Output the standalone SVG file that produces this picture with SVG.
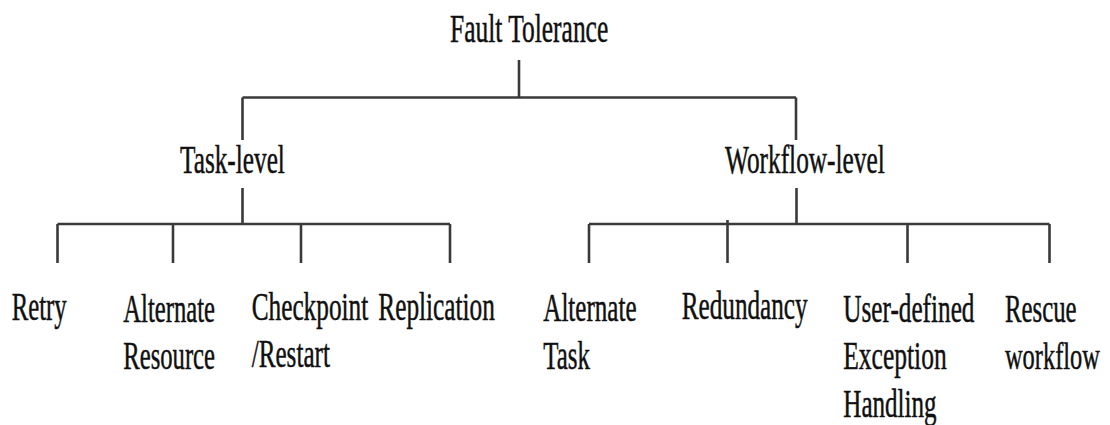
<svg xmlns="http://www.w3.org/2000/svg" width="1110" height="425" viewBox="0 0 1110 425">
<style>
  text { font-family: "Liberation Serif", "Times New Roman", serif; font-size: 39px; fill: #101010; stroke: #101010; stroke-width: 0.5; }
  .ln { stroke: #3a3a3a; stroke-width: 2.6; fill: none; stroke-linecap: butt; }
</style>
<rect width="1110" height="425" fill="#ffffff"/>
<g id="connectors">
  <line class="ln" x1="519" y1="60" x2="519" y2="97.5"/>
  <line class="ln" x1="242.5" y1="97.5" x2="796" y2="97.5"/>
  <line class="ln" x1="242.5" y1="97.5" x2="242.5" y2="140"/>
  <line class="ln" x1="796" y1="97.5" x2="796" y2="140"/>
  <line class="ln" x1="242.5" y1="188" x2="242.5" y2="224"/>
  <line class="ln" x1="796.5" y1="188" x2="796.5" y2="224"/>
  <line class="ln" x1="57.5" y1="224" x2="450" y2="224"/>
  <line class="ln" x1="57.5" y1="224" x2="57.5" y2="263"/>
  <line class="ln" x1="173" y1="224" x2="173" y2="263"/>
  <line class="ln" x1="301" y1="224" x2="301" y2="263"/>
  <line class="ln" x1="450" y1="224" x2="450" y2="263"/>
  <line class="ln" x1="589" y1="224" x2="1049.5" y2="224"/>
  <line class="ln" x1="589" y1="224" x2="589" y2="263"/>
  <line class="ln" x1="727.5" y1="220" x2="727.5" y2="263"/>
  <line class="ln" x1="907.5" y1="224" x2="907.5" y2="263"/>
  <line class="ln" x1="1049.5" y1="224" x2="1049.5" y2="263"/>
</g>
<g id="fault-tolerance"><text transform="translate(450,41.7) scale(0.653,1)">Fault Tolerance</text></g>
<g id="task-level"><text transform="translate(180,173.3) scale(0.648,1)">Task-level</text></g>
<g id="workflow-level"><text transform="translate(725,173.3) scale(0.65,1)">Workflow-level</text></g>
<g id="retry"><text transform="translate(11.7,320) scale(0.635,1)">Retry</text></g>
<g id="alternate-resource">
  <text transform="translate(123.3,321.5) scale(0.632,1)">Alternate</text>
  <text transform="translate(123.3,369.3) scale(0.632,1)">Resource</text>
</g>
<g id="checkpoint-restart">
  <text transform="translate(251.7,320) scale(0.648,1)">Checkpoint</text>
  <text transform="translate(251.7,367) scale(0.645,1)">/Restart</text>
</g>
<g id="replication"><text transform="translate(378.3,320) scale(0.649,1)">Replication</text></g>
<g id="alternate-task">
  <text transform="translate(543.3,320.7) scale(0.643,1)">Alternate</text>
  <text transform="translate(543.3,369.3) scale(0.638,1)">Task</text>
</g>
<g id="redundancy"><text transform="translate(681.7,318.5) scale(0.646,1)">Redundancy</text></g>
<g id="user-defined-exception-handling">
  <text transform="translate(843.3,321.7) scale(0.647,1)">User-defined</text>
  <text transform="translate(843.3,369.3) scale(0.654,1)">Exception</text>
  <text transform="translate(843.3,416.7) scale(0.643,1)">Handling</text>
</g>
<g id="rescue-workflow">
  <text transform="translate(1005,321.7) scale(0.636,1)">Rescue</text>
  <text transform="translate(1005,369) scale(0.626,1)">workflow</text>
</g>
</svg>
